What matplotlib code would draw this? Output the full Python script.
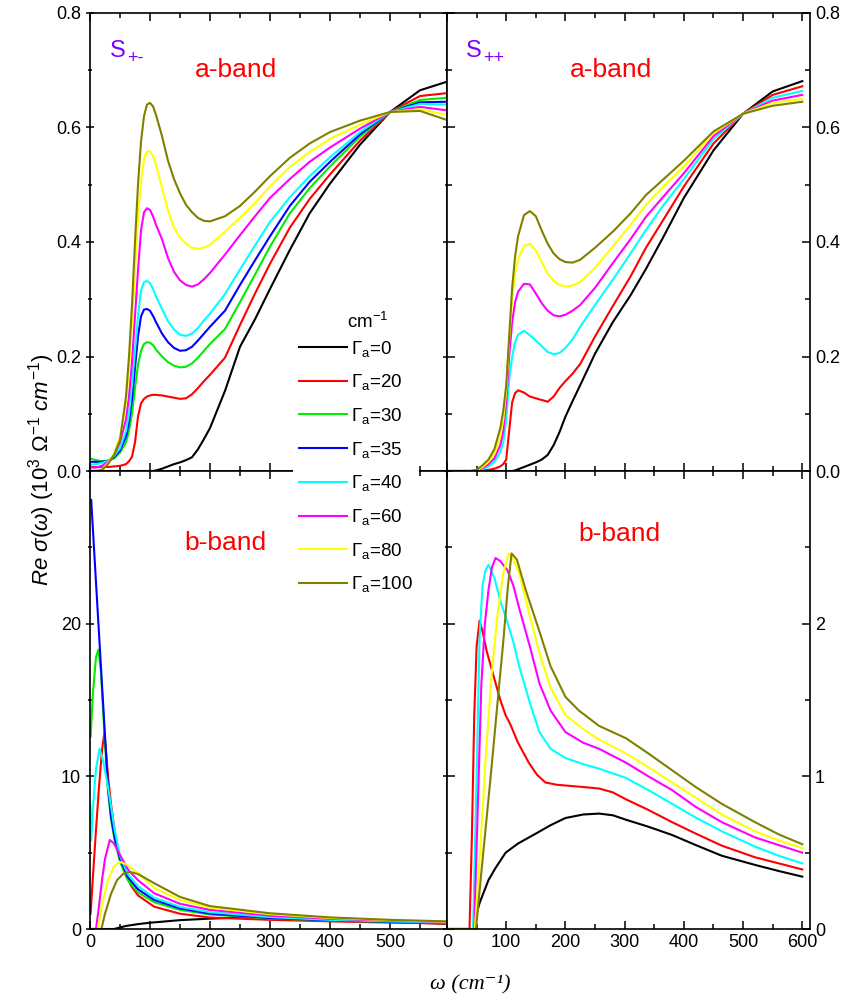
import matplotlib
matplotlib.use('Agg')
import matplotlib.pyplot as plt
from matplotlib.ticker import MultipleLocator
from matplotlib.lines import Line2D

plt.rcParams['font.family'] = ['Liberation Sans', 'DejaVu Sans']
plt.rcParams['mathtext.fontset'] = 'custom'
plt.rcParams['mathtext.rm'] = 'Liberation Sans'
plt.rcParams['mathtext.it'] = 'Liberation Sans:italic'
plt.rcParams['mathtext.bf'] = 'Liberation Sans:bold'
plt.rcParams['mathtext.sf'] = 'Liberation Sans'

gammas = [0, 20, 30, 35, 40, 60, 80, 100]
line_colors = ['#000000', '#ff0000', '#00ee00', '#0000ff', '#00ffff', '#ff00ff', '#ffff00', '#808000']

# ---- a-band, S+- (top left) ----
w_a_pm = [0, 10, 20, 30, 40, 50, 60, 65, 70, 75, 80, 85, 90, 95, 100, 105, 110, 120, 130, 140, 150,
          160, 170, 180, 190, 200, 225, 250, 275, 300, 333, 366, 400, 450, 500, 550, 595]
a_pm_0 = [0, 0, 0, 0, 0, 0, 0, 0, 0, 0, 0, 0, 0, 0, 0, 0, 0.001, 0.004, 0.008, 0.012, 0.015,
          0.019, 0.024, 0.038, 0.056, 0.075, 0.14, 0.217, 0.265, 0.318, 0.386, 0.45, 0.502, 0.57, 0.627, 0.665, 0.68]
a_pm_20 = [0.007, 0.007, 0.007, 0.007, 0.008, 0.009, 0.012, 0.017, 0.025, 0.05, 0.095, 0.118, 0.126, 0.13, 0.132,
           0.133, 0.133, 0.132, 0.13, 0.128, 0.126, 0.127, 0.134, 0.145, 0.157, 0.168, 0.198, 0.255, 0.31, 0.362,
           0.425, 0.475, 0.518, 0.577, 0.627, 0.655, 0.66]
a_pm_30 = [0.022, 0.019, 0.017, 0.018, 0.022, 0.032, 0.05, 0.07, 0.1, 0.145, 0.185, 0.21, 0.222, 0.225, 0.224,
           0.22, 0.212, 0.2, 0.19, 0.184, 0.181, 0.182, 0.188, 0.198, 0.21, 0.222, 0.248, 0.295, 0.343, 0.392,
           0.45, 0.494, 0.532, 0.584, 0.627, 0.648, 0.652]
a_pm_35 = [0.016, 0.016, 0.016, 0.018, 0.024, 0.036, 0.06, 0.085, 0.125, 0.18, 0.235, 0.27, 0.282, 0.283, 0.28,
           0.271, 0.26, 0.24, 0.225, 0.215, 0.21, 0.211, 0.217, 0.228, 0.24, 0.252, 0.28, 0.325, 0.368, 0.41,
           0.463, 0.505, 0.54, 0.588, 0.627, 0.644, 0.645]
a_pm_40 = [0.011, 0.012, 0.014, 0.018, 0.026, 0.04, 0.07, 0.1, 0.15, 0.21, 0.27, 0.315, 0.33, 0.332, 0.328,
           0.318, 0.305, 0.283, 0.262, 0.247, 0.238, 0.236, 0.24, 0.25, 0.263, 0.275, 0.309, 0.352, 0.394, 0.435,
           0.478, 0.515, 0.548, 0.592, 0.627, 0.641, 0.64]
a_pm_60 = [0.006, 0.006, 0.009, 0.016, 0.028, 0.05, 0.09, 0.13, 0.19, 0.27, 0.35, 0.42, 0.452, 0.459, 0.456,
           0.445, 0.43, 0.405, 0.372, 0.348, 0.333, 0.325, 0.322, 0.326, 0.335, 0.346, 0.378, 0.412, 0.445, 0.477,
           0.51, 0.54, 0.565, 0.598, 0.627, 0.636, 0.63]
a_pm_80 = [0, 0, 0.003, 0.014, 0.03, 0.06, 0.12, 0.18, 0.26, 0.35, 0.44, 0.505, 0.545, 0.558, 0.558,
           0.55, 0.535, 0.495, 0.455, 0.425, 0.408, 0.397, 0.39, 0.388, 0.39, 0.395, 0.418, 0.442, 0.468, 0.497,
           0.531, 0.557, 0.58, 0.605, 0.627, 0.632, 0.622]
a_pm_100 = [0, 0, 0.002, 0.012, 0.028, 0.054, 0.13, 0.2, 0.29, 0.4, 0.5, 0.575, 0.62, 0.64, 0.643,
            0.637, 0.622, 0.585, 0.542, 0.51, 0.485, 0.465, 0.452, 0.442, 0.437, 0.436, 0.445, 0.463, 0.488, 0.515,
            0.547, 0.572, 0.592, 0.612, 0.627, 0.629, 0.613]

# ---- a-band, S++ (top right) ----
w_a_pp = [0, 40, 50, 60, 70, 80, 90, 95, 100, 105, 110, 115, 120, 130, 140, 150, 160, 170, 180, 190,
          200, 212, 225, 250, 280, 310, 336, 366, 400, 450, 500, 550, 600]
a_pp_0 = [0, 0, 0, 0, 0, 0, 0, 0, 0, 0, 0, 0.001, 0.003, 0.007, 0.011, 0.015, 0.02, 0.028, 0.045, 0.068,
          0.095, 0.122, 0.15, 0.205, 0.26, 0.307, 0.353, 0.41, 0.477, 0.56, 0.624, 0.663, 0.681]
a_pp_20 = [0, 0, 0, 0.001, 0.002, 0.004, 0.008, 0.012, 0.02, 0.07, 0.12, 0.136, 0.141, 0.137, 0.13, 0.127,
           0.124, 0.121, 0.13, 0.145, 0.157, 0.17, 0.187, 0.235, 0.288, 0.34, 0.39, 0.44, 0.497, 0.572,
           0.624, 0.657, 0.672]
a_pp_40 = [0, 0, 0.001, 0.003, 0.008, 0.016, 0.033, 0.05, 0.09, 0.16, 0.2, 0.225, 0.238, 0.245, 0.237, 0.228,
           0.218, 0.208, 0.204, 0.206, 0.215, 0.23, 0.252, 0.29, 0.334, 0.38, 0.421, 0.465, 0.51, 0.58,
           0.624, 0.652, 0.664]
a_pp_60 = [0, 0, 0.001, 0.005, 0.012, 0.022, 0.045, 0.07, 0.12, 0.2, 0.26, 0.295, 0.313, 0.327, 0.326, 0.31,
           0.293, 0.28, 0.272, 0.27, 0.273, 0.28, 0.29, 0.32, 0.363, 0.405, 0.444, 0.48, 0.52, 0.585,
           0.624, 0.647, 0.657]
a_pp_80 = [0, 0, 0.001, 0.007, 0.016, 0.03, 0.06, 0.09, 0.14, 0.23, 0.3, 0.345, 0.37, 0.393, 0.397, 0.385,
           0.365, 0.345, 0.332, 0.325, 0.322, 0.324, 0.33, 0.355, 0.392, 0.43, 0.465, 0.497, 0.532, 0.59,
           0.624, 0.643, 0.65]
a_pp_100 = [0, 0, 0.002, 0.01, 0.02, 0.038, 0.075, 0.105, 0.15, 0.235, 0.32, 0.375, 0.41, 0.447, 0.454, 0.445,
            0.42, 0.397, 0.38, 0.37, 0.365, 0.364, 0.369, 0.39, 0.418, 0.45, 0.482, 0.51, 0.542, 0.593,
            0.624, 0.638, 0.645]

# ---- b-band, S+- (bottom left) ----
w_b_pm_0 = [0, 40, 60, 80, 100, 150, 200, 250, 300, 350, 400, 450, 500, 550, 595]
b_pm_0 = [0, 0, 0.2, 0.32, 0.41, 0.58, 0.68, 0.75, 0.77, 0.72, 0.62, 0.54, 0.46, 0.4, 0.34]
w_b_pm_20 = [1, 5, 10, 15, 20, 24, 27, 30, 35, 42, 50, 60, 69, 80, 107, 150, 200, 300, 400, 500, 595]
b_pm_20 = [1.0, 3.5, 6.5, 9.3, 11.7, 12.9, 11.5, 10.0, 8.2, 6.2, 4.6, 3.5, 2.8, 2.2, 1.46, 1.0, 0.75,
           0.6, 0.5, 0.42, 0.36]
w_b_pm_30 = [1, 5, 10, 14, 18, 24, 30, 35, 41, 50, 63, 80, 107, 150, 200, 300, 400, 500, 595]
b_pm_30 = [12.6, 15.5, 17.8, 18.3, 17.0, 12.8, 9.0, 7.2, 5.8, 4.4, 3.2, 2.4, 1.75, 1.25, 0.95, 0.7,
           0.55, 0.46, 0.39]
w_b_pm_35 = [2, 10, 20, 30, 35, 41, 50, 63, 80, 107, 150, 200, 300, 400, 500, 595]
b_pm_35 = [28.1, 22.7, 16.0, 9.3, 7.4, 6.0, 4.6, 3.4, 2.6, 1.9, 1.35, 1.0, 0.72, 0.57, 0.47, 0.4]
w_b_pm_40 = [0.5, 2, 5, 10, 16, 22, 30, 41, 50, 63, 80, 107, 150, 200, 300, 400, 500, 595]
b_pm_40 = [8.2, 5.8, 8.0, 10.5, 11.8, 11.0, 9.3, 6.5, 4.8, 3.6, 2.8, 2.05, 1.45, 1.1, 0.78, 0.6, 0.5, 0.42]
w_b_pm_60 = [0, 10, 15, 20, 25, 33, 40, 52, 65, 80, 107, 150, 200, 300, 400, 500, 595]
b_pm_60 = [0, 0, 1.5, 3.2, 4.6, 5.83, 5.6, 4.7, 3.8, 3.2, 2.34, 1.65, 1.25, 0.88, 0.67, 0.55, 0.46]
w_b_pm_80 = [0, 13, 20, 30, 40, 49, 60, 80, 107, 150, 200, 300, 400, 500, 595]
b_pm_80 = [0, 0, 1.6, 3.2, 4.1, 4.4, 4.25, 3.66, 2.68, 1.9, 1.4, 0.97, 0.72, 0.58, 0.48]
w_b_pm_100 = [0, 19, 25, 35, 45, 55, 66, 80, 107, 150, 200, 300, 400, 500, 595]
b_pm_100 = [0, 0, 1.0, 2.3, 3.2, 3.6, 3.75, 3.6, 3.0, 2.1, 1.5, 1.03, 0.76, 0.6, 0.5]

# ---- b-band, S++ (bottom right) ----
w_b_pp_0 = [0, 47, 50, 55, 60, 70, 82, 99, 120, 150, 175, 200, 230, 257, 280, 302, 340, 380, 420,
            464, 520, 560, 600]
b_pp_0 = [0, 0, 0.1, 0.17, 0.22, 0.32, 0.4, 0.5, 0.56, 0.625, 0.68, 0.727, 0.75, 0.756, 0.745, 0.716,
          0.67, 0.616, 0.55, 0.48, 0.42, 0.38, 0.343]
w_b_pp_20 = [0, 38, 42, 46, 50, 55, 60, 67, 77, 90, 99, 107, 120, 138, 152, 166, 185, 200, 230, 257,
             280, 302, 340, 380, 420, 464, 520, 560, 600]
b_pp_20 = [0, 0, 0.6, 1.4, 1.85, 2.02, 1.95, 1.82, 1.68, 1.5, 1.4, 1.34, 1.22, 1.09, 1.01, 0.96, 0.945,
           0.94, 0.93, 0.92, 0.895, 0.85, 0.78, 0.7, 0.625, 0.546, 0.47, 0.43, 0.39]
w_b_pp_40 = [0, 44, 50, 55, 60, 65, 70, 80, 90, 102, 112, 122, 140, 156, 175, 200, 230, 257, 302, 340,
             380, 420, 464, 520, 560, 600]
b_pp_40 = [0, 0, 1.0, 1.9, 2.25, 2.35, 2.385, 2.3, 2.15, 2.01, 1.88, 1.72, 1.48, 1.29, 1.18, 1.12, 1.08,
           1.05, 0.99, 0.91, 0.82, 0.73, 0.64, 0.54, 0.48, 0.43]
w_b_pp_60 = [0, 46, 52, 58, 64, 70, 76, 82, 90, 102, 112, 122, 140, 156, 175, 200, 230, 257, 302, 340,
             380, 420, 464, 520, 560, 600]
b_pp_60 = [0, 0, 0.8, 1.6, 2.0, 2.22, 2.37, 2.43, 2.41, 2.35, 2.25, 2.1, 1.85, 1.61, 1.43, 1.29, 1.22,
           1.18, 1.09, 1.0, 0.91, 0.8, 0.7, 0.6, 0.55, 0.5]
w_b_pp_80 = [0, 47, 55, 65, 75, 85, 95, 104, 112, 122, 140, 156, 175, 200, 230, 257, 302, 340, 380, 420,
             464, 520, 560, 600]
b_pp_80 = [0, 0, 0.45, 1.1, 1.65, 2.05, 2.33, 2.46, 2.42, 2.33, 2.05, 1.81, 1.58, 1.4, 1.31, 1.24, 1.15,
           1.06, 0.96, 0.86, 0.75, 0.64, 0.58, 0.53]
w_b_pp_100 = [0, 49, 55, 65, 75, 85, 95, 103, 109, 118, 133, 156, 175, 200, 223, 257, 302, 340, 380, 420,
              464, 520, 560, 600]
b_pp_100 = [0, 0, 0.25, 0.65, 1.05, 1.47, 1.88, 2.25, 2.46, 2.42, 2.22, 1.95, 1.72, 1.52, 1.43, 1.33, 1.25,
            1.15, 1.04, 0.93, 0.82, 0.7, 0.62, 0.555]

W, H = 845, 1001
fig = plt.figure(figsize=(W / 100, H / 100), dpi=100)


def px_box(x0, y0, x1, y1):
    return [x0 / W, 1 - y1 / H, (x1 - x0) / W, (y1 - y0) / H]


ax_tl = fig.add_axes(px_box(90, 13, 447, 471))
ax_tr = fig.add_axes(px_box(447, 13, 810, 471))
ax_bl = fig.add_axes(px_box(90, 471, 447, 929))
ax_br = fig.add_axes(px_box(447, 471, 810, 929))

lw = 1.5
top_left = [a_pm_0, a_pm_20, a_pm_30, a_pm_35, a_pm_40, a_pm_60, a_pm_80, a_pm_100]
for ys, c in zip(top_left, line_colors):
    ax_tl.plot(w_a_pm, ys, color=c, lw=lw)

pp_colors = [line_colors[i] for i in (0, 1, 4, 5, 6, 7)]
top_right = [a_pp_0, a_pp_20, a_pp_40, a_pp_60, a_pp_80, a_pp_100]
for ys, c in zip(top_right, pp_colors):
    ax_tr.plot(w_a_pp, ys, color=c, lw=lw)

bottom_left = [(w_b_pm_0, b_pm_0), (w_b_pm_20, b_pm_20), (w_b_pm_30, b_pm_30), (w_b_pm_35, b_pm_35),
               (w_b_pm_40, b_pm_40), (w_b_pm_60, b_pm_60), (w_b_pm_80, b_pm_80), (w_b_pm_100, b_pm_100)]
for (xs, ys), c in zip(bottom_left, line_colors):
    ax_bl.plot(xs, ys, color=c, lw=lw)

bottom_right = [(w_b_pp_0, b_pp_0), (w_b_pp_20, b_pp_20), (w_b_pp_40, b_pp_40),
                (w_b_pp_60, b_pp_60), (w_b_pp_80, b_pp_80), (w_b_pp_100, b_pp_100)]
for (xs, ys), c in zip(bottom_right, pp_colors):
    ax_br.plot(xs, ys, color=c, lw=lw)

# axes limits and ticks
for ax in (ax_tl, ax_bl):
    ax.set_xlim(0, 595)
for ax in (ax_tr, ax_br):
    ax.set_xlim(0, 613)
for ax in (ax_tl, ax_tr):
    ax.set_ylim(0, 0.8)
    ax.yaxis.set_major_locator(MultipleLocator(0.2))
    ax.yaxis.set_minor_locator(MultipleLocator(0.1))
    ax.yaxis.set_major_formatter(plt.FuncFormatter(lambda v, p: f'{v:.1f}'))
ax_bl.set_ylim(0, 30)
ax_bl.set_yticks([0, 10, 20])
ax_bl.yaxis.set_minor_locator(MultipleLocator(5))
ax_br.set_ylim(0, 3)
ax_br.set_yticks([0, 1, 2])
ax_br.yaxis.set_minor_locator(MultipleLocator(0.5))

for ax in (ax_tl, ax_tr, ax_bl, ax_br):
    ax.xaxis.set_major_locator(MultipleLocator(100))
    ax.xaxis.set_minor_locator(MultipleLocator(50))
    ax.tick_params(axis='x', which='both', direction='in', top=True, bottom=True, labelsize=13)
    ax.tick_params(axis='both', which='major', length=6, width=1.1)
    ax.tick_params(axis='both', which='minor', length=3.5, width=1.1)
    for s in ax.spines.values():
        s.set_linewidth(1.2)

for ax in (ax_tl, ax_bl):
    ax.tick_params(axis='y', which='both', direction='inout', left=True, right=True,
                   labelleft=True, labelright=False, labelsize=13)
for ax in (ax_tr, ax_br):
    ax.tick_params(axis='y', which='both', direction='in', left=True, right=True,
                   labelleft=False, labelright=True, labelsize=13)
ax_tl.tick_params(axis='x', labelbottom=False)
ax_tr.tick_params(axis='x', labelbottom=False)


# annotations
def fig_text(x, y, s, **kw):
    fig.text(x / W, 1 - y / H, s, va='baseline', **kw)


purple = '#8000ff'
fig_text(110, 57, 'S', color=purple, fontsize=17)
fig_text(127, 63, '+-', color=purple, fontsize=13)
fig_text(466, 57, 'S', color=purple, fontsize=17)
fig_text(483, 63, '++', color=purple, fontsize=13)
fig_text(195, 77, 'a-band', color='#ff0000', fontsize=19)
fig_text(570, 77, 'a-band', color='#ff0000', fontsize=19)
fig_text(184, 550, 'b-band', color='#ff0000', fontsize=19)
fig_text(578, 541, 'b-band', color='#ff0000', fontsize=19)

fig.text(42 / W, 1 - 470 / H, r'$Re\ \sigma(\omega)\ (10^3\ \Omega^{-1}\ cm^{-1})$',
         rotation=90, ha='center', va='center', fontsize=16)
fig.text(470 / W, 1 - 985 / H, 'ω (cm⁻¹)', ha='center', va='center', fontsize=16,
         style='italic', family=['Liberation Serif', 'DejaVu Serif'])

handles = [Line2D([], [], color=c, lw=lw) for c in line_colors]
labels = [r'$\mathregular{\Gamma_a}$=' + str(g) for g in gammas]
leg = fig.legend(handles, labels, loc='upper left', bbox_to_anchor=(293 / W, 1 - 333 / H),
                 fontsize=13.5, frameon=True, handlelength=2.6, handletextpad=0.2,
                 labelspacing=0.73, borderpad=0.3, borderaxespad=0)
leg.get_frame().set_facecolor('white')
leg.get_frame().set_edgecolor('none')
leg.get_frame().set_alpha(1)
fig.text(368 / W, 1 - 322 / H, r'cm$^{\mathregular{-1}}$', ha='center', va='center', fontsize=13.5)

fig.savefig('out.png', dpi=100)
